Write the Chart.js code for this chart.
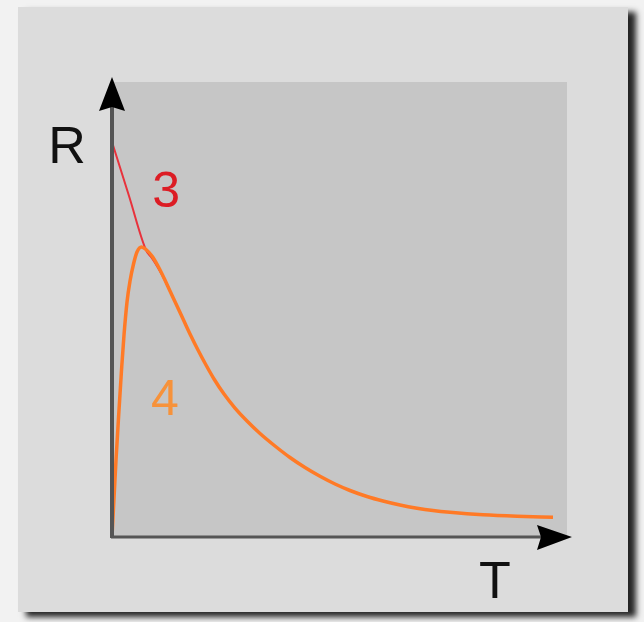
<!DOCTYPE html>
<html>
<head>
<meta charset="utf-8">
<script src="https://cdn.jsdelivr.net/npm/chart.js@4"></script>
<style>
  html, body { margin: 0; padding: 0; background: #f2f2f2; }
  canvas { display: block; }
</style>
</head>
<body>
<canvas id="chart" width="644" height="622"></canvas>
<script>
// curve 3 (red)
const tRed = [0, 3.74, 7.47, 8.79, 10.11, 11.43, 12.75];
const rRed = [86.81, 74.95, 63.08, 61.3, 59.2, 56.8, 54.07];

// curve 4 (orange)
const tOrange = [0, 0.88, 1.54, 2.09, 2.64, 3.3, 3.96, 4.73, 5.49, 6.48, 7.47, 8.79, 10.11, 11.43, 12.75,
  14.29, 15.82, 17.36, 18.9, 20.66, 22.42, 24.62, 27.03, 29.67, 32.53, 35.82, 39.12, 42.42, 45.71, 49.01,
  52.31, 56.04, 59.56, 63.3, 67.03, 70.55, 74.29, 81.54, 89.01, 96.92];
const rOrange = [0, 16.92, 27.91, 36.7, 44.4, 51.65, 56.26, 60, 62.64, 63.74, 63.19, 61.76, 59.56, 56.92, 54.07,
  50.77, 47.47, 44.18, 41.1, 37.8, 34.73, 31.43, 28.35, 25.49, 22.75, 20, 17.47, 15.27, 13.34, 11.65,
  10.22, 8.9, 7.91, 7.03, 6.33, 5.82, 5.43, 4.88, 4.55, 4.33];

const axisLabels = ["T", "R"];
const curveLabels = [
  { text: "3", t: 11.9, r: 72.5, color: "#dc1c24" },
  { text: "4", t: 11.6, r: 26.8, color: "#f7923a" },
];

const toPoints = (xs, ys) => xs.map((x, i) => ({ x: x, y: ys[i] }));

// panel, shadow and plot background
const backdrop = {
  id: "backdrop",
  beforeDraw(chart) {
    const ctx = chart.ctx;
    const a = chart.chartArea;
    ctx.save();
    ctx.fillStyle = "#f2f2f2";
    ctx.fillRect(0, 0, chart.width, chart.height);
    ctx.shadowColor = "rgba(0,0,0,0.85)";
    ctx.shadowOffsetX = 8;
    ctx.shadowOffsetY = 5;
    ctx.shadowBlur = 6;
    ctx.fillStyle = "#dcdcdc";
    ctx.fillRect(18, 7, 610, 605);
    ctx.restore();
    ctx.save();
    ctx.fillStyle = "#c6c6c6";
    ctx.fillRect(a.left, a.top, a.right - a.left, a.bottom - a.top);
    ctx.restore();
  },
  afterDatasetsDraw(chart) {
    const ctx = chart.ctx;
    const a = chart.chartArea;
    const xs = chart.scales.x;
    const ys = chart.scales.y;
    ctx.save();
    // axes
    ctx.strokeStyle = "#555";
    ctx.lineWidth = 4;
    ctx.beginPath();
    ctx.moveTo(a.left, a.bottom + 1);
    ctx.lineTo(a.left, a.top + 20);
    ctx.stroke();
    ctx.lineWidth = 3;
    ctx.beginPath();
    ctx.moveTo(a.left - 1, a.bottom);
    ctx.lineTo(a.right - 20, a.bottom);
    ctx.stroke();
    // arrow heads
    ctx.fillStyle = "#000";
    ctx.beginPath();
    ctx.moveTo(a.left, a.top - 5);
    ctx.lineTo(a.left - 13, a.top + 29);
    ctx.lineTo(a.left, a.top + 25);
    ctx.lineTo(a.left + 13, a.top + 29);
    ctx.closePath();
    ctx.fill();
    ctx.beginPath();
    ctx.moveTo(a.right + 5, a.bottom);
    ctx.lineTo(a.right - 30, a.bottom - 12);
    ctx.lineTo(a.right - 26, a.bottom);
    ctx.lineTo(a.right - 30, a.bottom + 13);
    ctx.closePath();
    ctx.fill();
    // axis names
    ctx.font = "52px 'Liberation Sans', Arial, sans-serif";
    ctx.textAlign = "center";
    ctx.textBaseline = "alphabetic";
    ctx.fillStyle = "#111";
    ctx.fillText(axisLabels[0], a.right - 72, a.bottom + 61);
    ctx.fillText(axisLabels[1], a.left - 45, a.top + 81);
    // curve numbers
    ctx.font = "50px 'Liberation Sans', Arial, sans-serif";
    curveLabels.forEach((l) => {
      ctx.fillStyle = l.color;
      ctx.fillText(l.text, xs.getPixelForValue(l.t), ys.getPixelForValue(l.r));
    });
    ctx.restore();
  },
};

new Chart(document.getElementById("chart"), {
  type: "line",
  data: {
    datasets: [
      {
        label: "4",
        data: toPoints(tOrange, rOrange),
        borderColor: "#ff7a26",
        borderWidth: 3.5,
        pointRadius: 0,
        cubicInterpolationMode: "monotone",
      },
      {
        label: "3",
        data: toPoints(tRed, rRed),
        borderColor: "#e8323c",
        borderWidth: 2,
        pointRadius: 0,
        cubicInterpolationMode: "monotone",
      },
    ],
  },
  options: {
    responsive: false,
    animation: false,
    layout: { padding: { left: 112, top: 82, right: 77, bottom: 85 } },
    plugins: { legend: { display: false }, tooltip: { enabled: false } },
    scales: {
      x: {
        type: "linear",
        min: 0,
        max: 100,
        display: false,
      },
      y: {
        type: "linear",
        min: 0,
        max: 100,
        display: false,
      },
    },
  },
  plugins: [backdrop],
});
</script>
</body>
</html>
